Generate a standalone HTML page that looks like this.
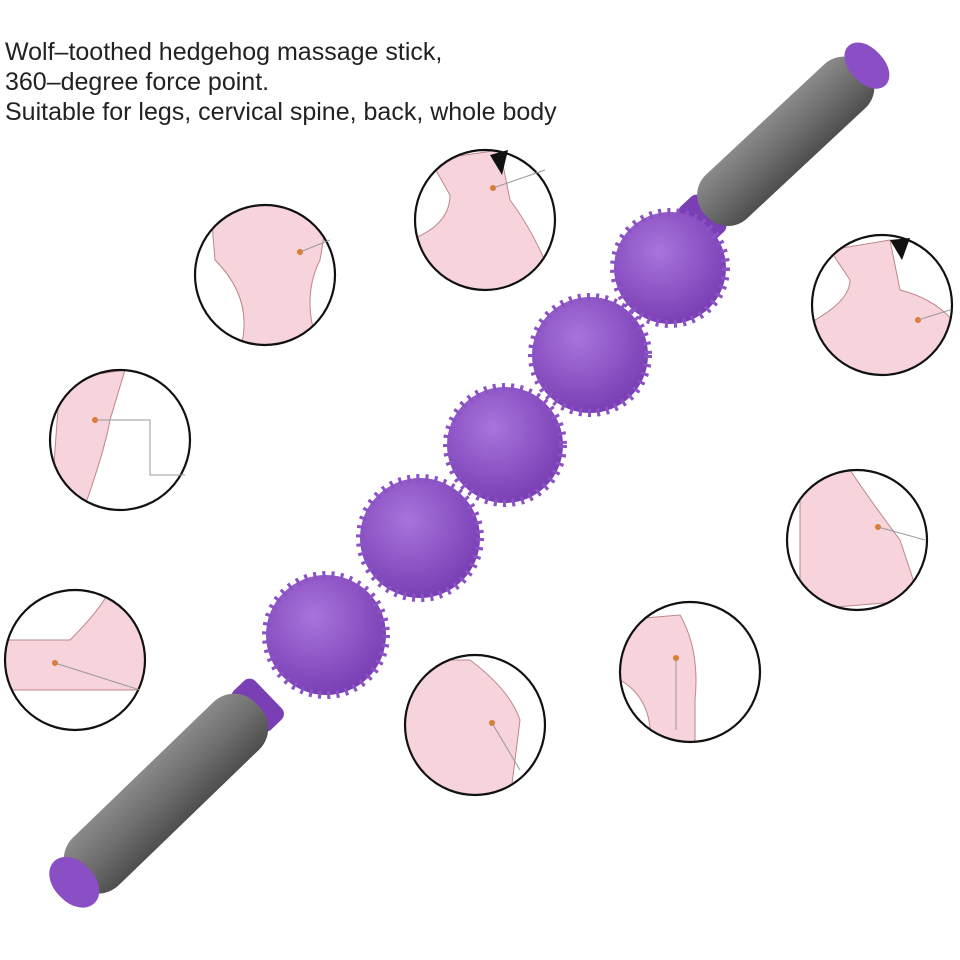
<!DOCTYPE html>
<html><head><style>
body{margin:0;background:#fff;width:960px;height:960px;overflow:hidden}
.t{position:absolute;left:5px;top:37px;font:25px/30px "Liberation Sans",sans-serif;color:#222}
</style></head><body>
<svg width="960" height="960" style="position:absolute;left:0;top:0">
<defs>
<radialGradient id="b" cx="40%" cy="35%" r="65%"><stop offset="0" stop-color="#a874dc"/><stop offset="1" stop-color="#7a3fb5"/></radialGradient>
<linearGradient id="g" x1="0" y1="0" x2="0" y2="1"><stop offset="0" stop-color="#8a8a8a"/><stop offset=".5" stop-color="#6e6e6e"/><stop offset="1" stop-color="#4e4e4e"/></linearGradient>
<clipPath id="c1"><circle cx="265" cy="275" r="69"/></clipPath>
<clipPath id="c2"><circle cx="485" cy="220" r="69"/></clipPath>
<clipPath id="c3"><circle cx="882" cy="305" r="69"/></clipPath>
<clipPath id="c4"><circle cx="120" cy="440" r="69"/></clipPath>
<clipPath id="c5"><circle cx="857" cy="540" r="69"/></clipPath>
<clipPath id="c6"><circle cx="75" cy="660" r="69"/></clipPath>
<clipPath id="c7"><circle cx="475" cy="725" r="69"/></clipPath>
<clipPath id="c8"><circle cx="690" cy="672" r="69"/></clipPath>
</defs>
<g fill="#f7d3dc" stroke="#b88" stroke-width="1">
<path clip-path="url(#c1)" d="M210 200 L330 200 L320 260 Q300 300 320 350 L240 350 Q255 300 215 260Z"/>
<path clip-path="url(#c2)" d="M430 160 L500 150 L510 200 Q540 240 560 300 L410 300 L410 240 Q450 225 450 195Z"/>
<path clip-path="url(#c3)" d="M830 250 L890 240 L900 290 Q940 300 960 330 L950 380 L810 380 L815 320 Q850 300 850 280Z"/>
<path clip-path="url(#c4)" d="M60 380 L125 370 L110 420 Q105 450 80 520 L50 520Z"/>
<path clip-path="url(#c5)" d="M800 470 L850 470 Q870 500 900 540 L920 600 L800 610Z"/>
<path clip-path="url(#c6)" d="M0 640 L70 640 Q100 610 110 590 L150 590 L150 690 L0 690Z"/>
<path clip-path="url(#c7)" d="M400 660 L470 660 Q510 690 520 720 L510 800 L400 800Z"/>
<path clip-path="url(#c8)" d="M620 620 L680 615 Q700 650 695 700 L695 750 L650 750 Q655 700 620 680Z"/>
</g>
<g fill="none" stroke="#111" stroke-width="2.2">
<circle cx="265" cy="275" r="70"/><circle cx="485" cy="220" r="70"/><circle cx="882" cy="305" r="70"/>
<circle cx="120" cy="440" r="70"/><circle cx="857" cy="540" r="70"/><circle cx="75" cy="660" r="70"/>
<circle cx="475" cy="725" r="70"/><circle cx="690" cy="672" r="70"/>
</g>
<path d="M490 155 l18 -5 l-6 25z M890 240 l20 -2 l-8 22z" fill="#111"/>
<g fill="#e07a30"><circle cx="300" cy="252" r="3"/><circle cx="493" cy="188" r="3"/><circle cx="918" cy="320" r="3"/><circle cx="95" cy="420" r="3"/><circle cx="878" cy="527" r="3"/><circle cx="55" cy="663" r="3"/><circle cx="492" cy="723" r="3"/><circle cx="676" cy="658" r="3"/></g>
<g stroke="#999" stroke-width="1" fill="none"><path d="M300 252 L330 240"/><path d="M493 188 L545 170"/><path d="M918 320 L950 310"/><path d="M95 420 L150 420 L150 475 L185 475"/><path d="M878 527 L925 540"/><path d="M55 663 L140 690"/><path d="M492 723 L520 770"/><path d="M676 658 L676 730"/></g>
<!-- top handle -->
<g transform="translate(785,142) rotate(-43)">
<rect x="-128" y="-24" width="30" height="48" rx="8" fill="#7a3fb5"/>
<rect x="-108" y="-30" width="218" height="60" rx="28" fill="url(#g)"/>
<rect x="95" y="-27" width="34" height="54" rx="25" fill="#8a4fc4"/>
</g>
<!-- bottom handle -->
<g transform="translate(175,785) rotate(-44)">
<rect x="100" y="-27" width="30" height="54" rx="8" fill="#7a3fb5"/>
<rect x="-140" y="-33" width="255" height="66" rx="30" fill="url(#g)"/>
<rect x="-160" y="-29" width="40" height="58" rx="27" fill="#8a4fc4"/>
</g>
<g fill="url(#b)" stroke="#8a52c4" stroke-width="8" stroke-dasharray="3 6">
<circle cx="670" cy="268" r="56"/><circle cx="590" cy="355" r="58"/><circle cx="505" cy="445" r="58"/><circle cx="420" cy="538" r="60"/><circle cx="326" cy="635" r="60"/>
</g>
</svg>
<div class="t">Wolf–toothed hedgehog massage stick,<br>360–degree force point.<br>Suitable for legs, cervical spine, back, whole body</div>
</body></html>
